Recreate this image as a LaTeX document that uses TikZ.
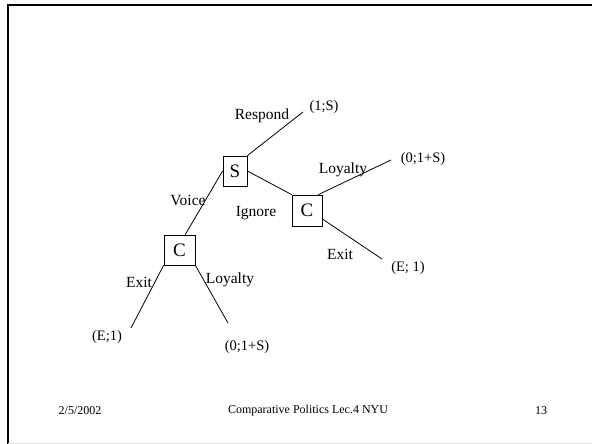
\documentclass[tikz,border=0pt]{standalone}
\usepackage{fontspec}
\setmainfont{Liberation Serif}
\usetikzlibrary{calc}
\begin{document}
\begin{tikzpicture}[x=1pt,y=-1pt,
  movebox/.style={draw,line width=0.8pt,inner sep=0pt,font=\fontsize{19}{19}\selectfont},
  edgelbl/.style={inner sep=0pt,font=\fontsize{15.5}{16}\selectfont},
  payoff/.style={inner sep=0pt,font=\fontsize{14.5}{15}\selectfont},
  foot/.style={inner sep=0pt,font=\fontsize{12}{13}\selectfont},
  branch/.style={line width=0.8pt}]
\useasboundingbox (0,0) rectangle (592,444);
\fill[white] (0,0) rectangle (592,444);
% slide frame
\draw[line width=2pt] (8,444) -- (8,5) -- (592,5);
\draw[line width=1pt,black!12] (8,443) -- (592,443);
% decision nodes
\node[movebox,minimum width=24pt,minimum height=30pt] (S) at (235,171) {S};
\node[movebox,minimum width=30pt,minimum height=31pt] (CR) at (307,210.5) {C};
\node[movebox,minimum width=31pt,minimum height=30pt] (CL) at (179.5,250) {C};
% terminal points
\coordinate (r1) at (303,112);
\coordinate (r2) at (391,160);
\coordinate (r3) at (382,259);
\coordinate (l1) at (131,328);
\coordinate (l2) at (228,323);
% branches
\draw[branch] (S.north east) -- (r1);
\draw[branch] (S.east) -- (CR.north west);
\draw[branch] (S.west) -- ($(CL.north west)!0.68!(CL.north east)$);
\draw[branch] ([xshift=-4pt]CR.north east) -- (r2);
\draw[branch] ([yshift=-8.5pt]CR.east) -- (r3);
\draw[branch] (CL.south west) -- (l1);
\draw[branch] (CL.south east) -- (l2);
% branch labels
\node[edgelbl] (tRespond) at (262,116) {Respond};
\node[edgelbl] (tLoyR) at (343,170) {Loyalty};
\node[edgelbl] (tVoice) at (188,200) {Voice};
\node[edgelbl] (tIgnore) at (256,213) {Ignore};
\node[edgelbl] (tExitR) at (340,254) {Exit};
\node[edgelbl] (tExitL) at (139,282) {Exit};
\node[edgelbl] (tLoyL) at (230,280) {Loyalty};
% payoffs
\node[payoff] (p1) at (324,107) {(1;S)};
\node[payoff] (p2) at (423,159) {(0;1+S)};
\node[payoff] (p3) at (408,268) {(E; 1)};
\node[payoff] (p4) at (107,337) {(E;1)};
\node[payoff] (p5) at (247,347) {(0;1+S)};
% footer
\node[foot] (fdate) at (80,411) {2/5/2002};
\node[foot] (ftitle) at (308,411) {Comparative Politics Lec.4 NYU};
\node[foot] (fpage) at (541,411) {13};
\end{tikzpicture}
\end{document}
